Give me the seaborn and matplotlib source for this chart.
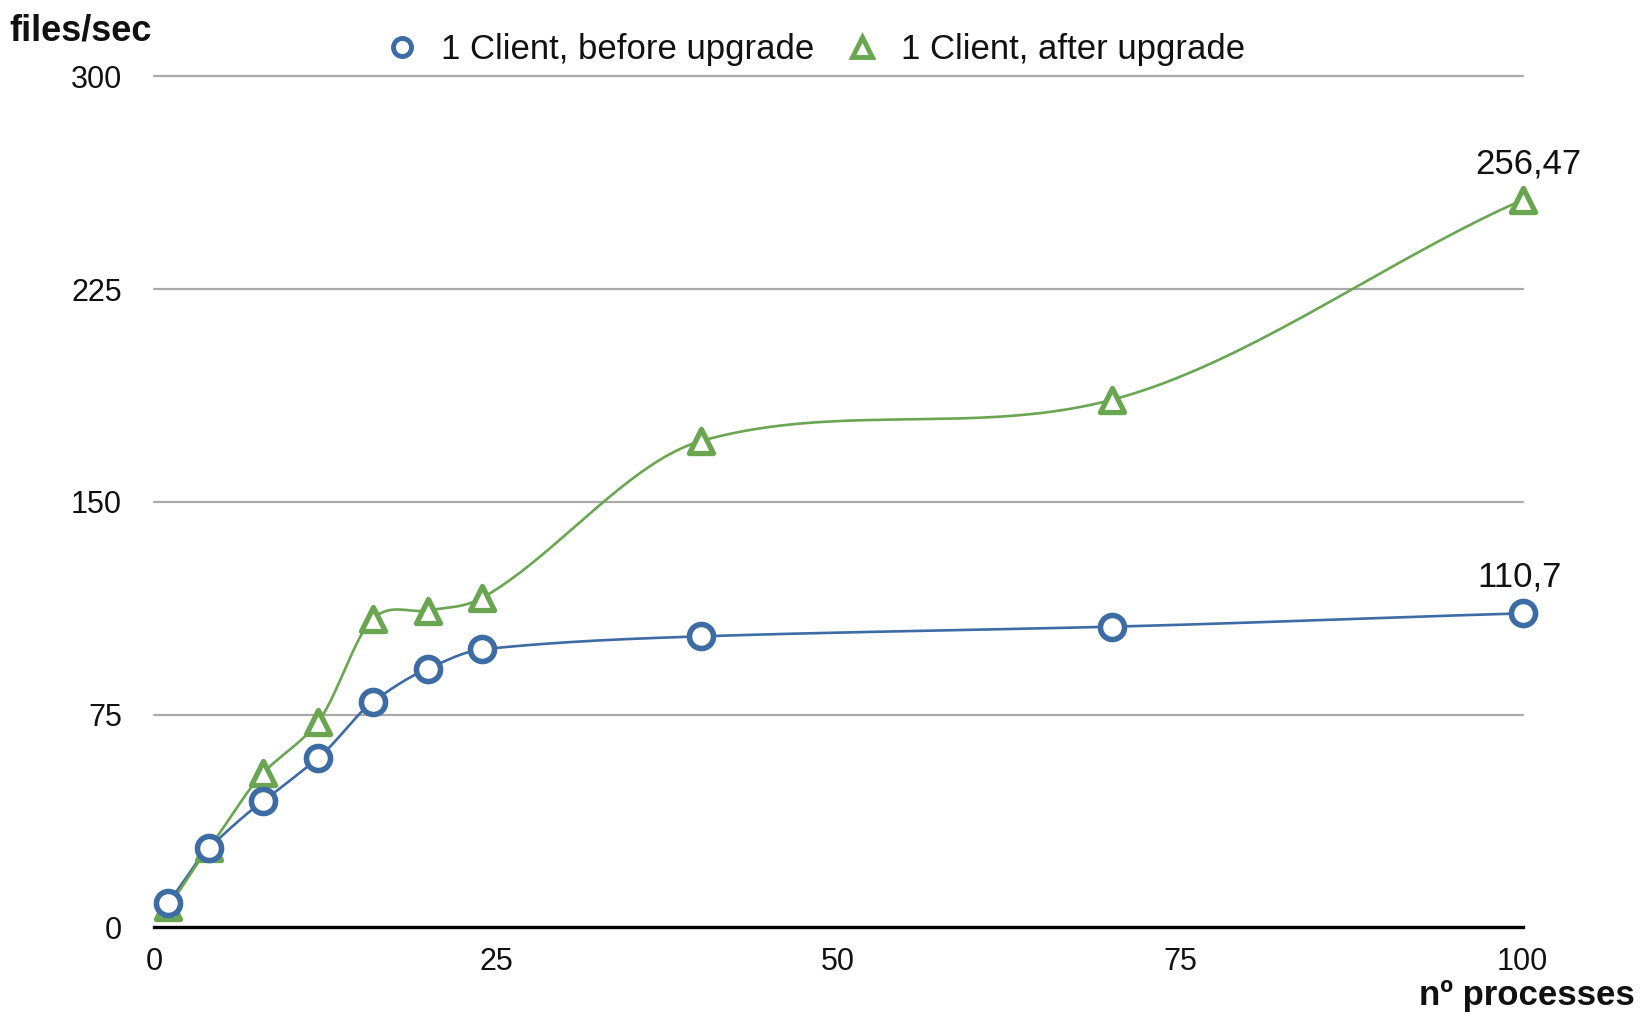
import numpy as np
import pandas as pd
import matplotlib
matplotlib.use("Agg")
import matplotlib.pyplot as plt
from matplotlib.lines import Line2D
import seaborn as sns

# Throughput measured for each number of concurrent processes
processes = [1, 4, 8, 12, 16, 20, 24, 40, 70, 100]
before_upgrade = [8.5, 27.8, 44.6, 59.7, 79.5, 91.2, 98.0, 102.6, 106.0, 110.7]
after_upgrade = [7.0, 28.0, 54.5, 72.5, 108.8, 111.7, 116.2, 171.5, 186.0, 256.47]

series_names = ["1 Client, before upgrade", "1 Client, after upgrade"]
y_ticks = [0, 75, 150, 225, 300]
x_ticks = [0, 25, 50, 75, 100]

BLUE = "#3C6CA3"
GREEN = "#6AA652"


def smooth_curve(x, y, n=40, tension=0.9):
    """Cubic Hermite curve through the points, tangents from neighbouring points."""
    x = np.asarray(x, float)
    y = np.asarray(y, float)
    m = np.empty_like(y)
    m[1:-1] = (y[2:] - y[:-2]) / (x[2:] - x[:-2])
    m[0] = (y[1] - y[0]) / (x[1] - x[0])
    m[-1] = (y[-1] - y[-2]) / (x[-1] - x[-2])
    m *= tension
    xs, ys = [], []
    for i in range(len(x) - 1):
        h = x[i + 1] - x[i]
        t = np.linspace(0, 1, n, endpoint=(i == len(x) - 2))
        h00 = 2 * t**3 - 3 * t**2 + 1
        h10 = t**3 - 2 * t**2 + t
        h01 = -2 * t**3 + 3 * t**2
        h11 = t**3 - t**2
        xs.append(x[i] + t * h)
        ys.append(h00 * y[i] + h10 * h * m[i] + h01 * y[i + 1] + h11 * h * m[i + 1])
    return np.concatenate(xs), np.concatenate(ys)


sns.set_theme(style="white")
plt.rcParams["font.family"] = ["Liberation Sans", "DejaVu Sans"]

fig = plt.figure(figsize=(16.43, 10.17), dpi=100)
ax = fig.add_axes([0.0937, 0.0882, 0.8330, 0.8366])

# Smoothed connecting lines
for ys, color in [(before_upgrade, BLUE), (after_upgrade, GREEN)]:
    cx, cy = smooth_curve(processes, ys)
    curve = pd.DataFrame({"x": cx, "y": cy})
    sns.lineplot(data=curve, x="x", y="y", ax=ax, color=color, linewidth=1.9,
                 sort=False, estimator=None, zorder=3)

# Markers at the measured points
pts = pd.DataFrame({"processes": processes, "before": before_upgrade, "after": after_upgrade})
sns.scatterplot(data=pts, x="processes", y="after", ax=ax, marker="^", s=300,
                facecolor="white", edgecolor=GREEN, linewidth=3.8, zorder=4, clip_on=False)
sns.scatterplot(data=pts, x="processes", y="before", ax=ax, marker="o", s=300,
                facecolor="white", edgecolor=BLUE, linewidth=4.0, zorder=5, clip_on=False)

# Value labels on the last points
ax.annotate(f"{after_upgrade[-1]:g}".replace(".", ","), (processes[-1], after_upgrade[-1]),
            xytext=(4, 26), textcoords="offset points", ha="center", va="center",
            fontsize=25, color="#111111", zorder=6)
ax.annotate(f"{before_upgrade[-1]:g}".replace(".", ","), (processes[-1], before_upgrade[-1]),
            xytext=(-2, 26), textcoords="offset points", ha="center", va="center",
            fontsize=25, color="#111111", zorder=6)

ax.set_xlim(0, 100)
ax.set_ylim(0, 300)
ax.set_xticks(x_ticks)
ax.set_yticks(y_ticks)
ax.set_xticklabels([str(v) for v in x_ticks])
ax.set_yticklabels([str(v) for v in y_ticks])
ax.tick_params(axis="both", length=0, labelsize=22, labelcolor="#111111")
ax.tick_params(axis="y", pad=23)
ax.tick_params(axis="x", pad=14)
ax.set_xlabel("")
ax.set_ylabel("")

# Horizontal grid lines only
ax.grid(False)
for v in y_ticks[1:]:
    ax.axhline(v, color="#A9A9A9", linewidth=1.6, zorder=1, clip_on=False)
for side in ["top", "right", "left"]:
    ax.spines[side].set_visible(False)
ax.spines["bottom"].set_color("black")
ax.spines["bottom"].set_linewidth(2.4)
ax.spines["bottom"].set_zorder(2)

fig.text(0.006, 0.970, "files/sec", fontsize=26, fontweight="bold", ha="left", va="center",
         color="#111111")
fig.text(0.995, 0.021, "nº processes", fontsize=25, fontweight="bold", ha="right", va="center",
         color="#111111")

handles = [
    Line2D([], [], marker="o", linestyle="", markerfacecolor="white", markeredgecolor=BLUE,
           markersize=13, markeredgewidth=3.5),
    Line2D([], [], marker="^", linestyle="", markerfacecolor="white", markeredgecolor=GREEN,
           markersize=14, markeredgewidth=3.5),
]
fig.legend(handles, series_names, loc="center", bbox_to_anchor=(0.496, 0.951), ncol=2,
           frameon=False, fontsize=25, handlelength=1.0, handletextpad=0.6,
           columnspacing=0.9, labelcolor="#111111")

fig.savefig("out.png", dpi=100, facecolor="white")
